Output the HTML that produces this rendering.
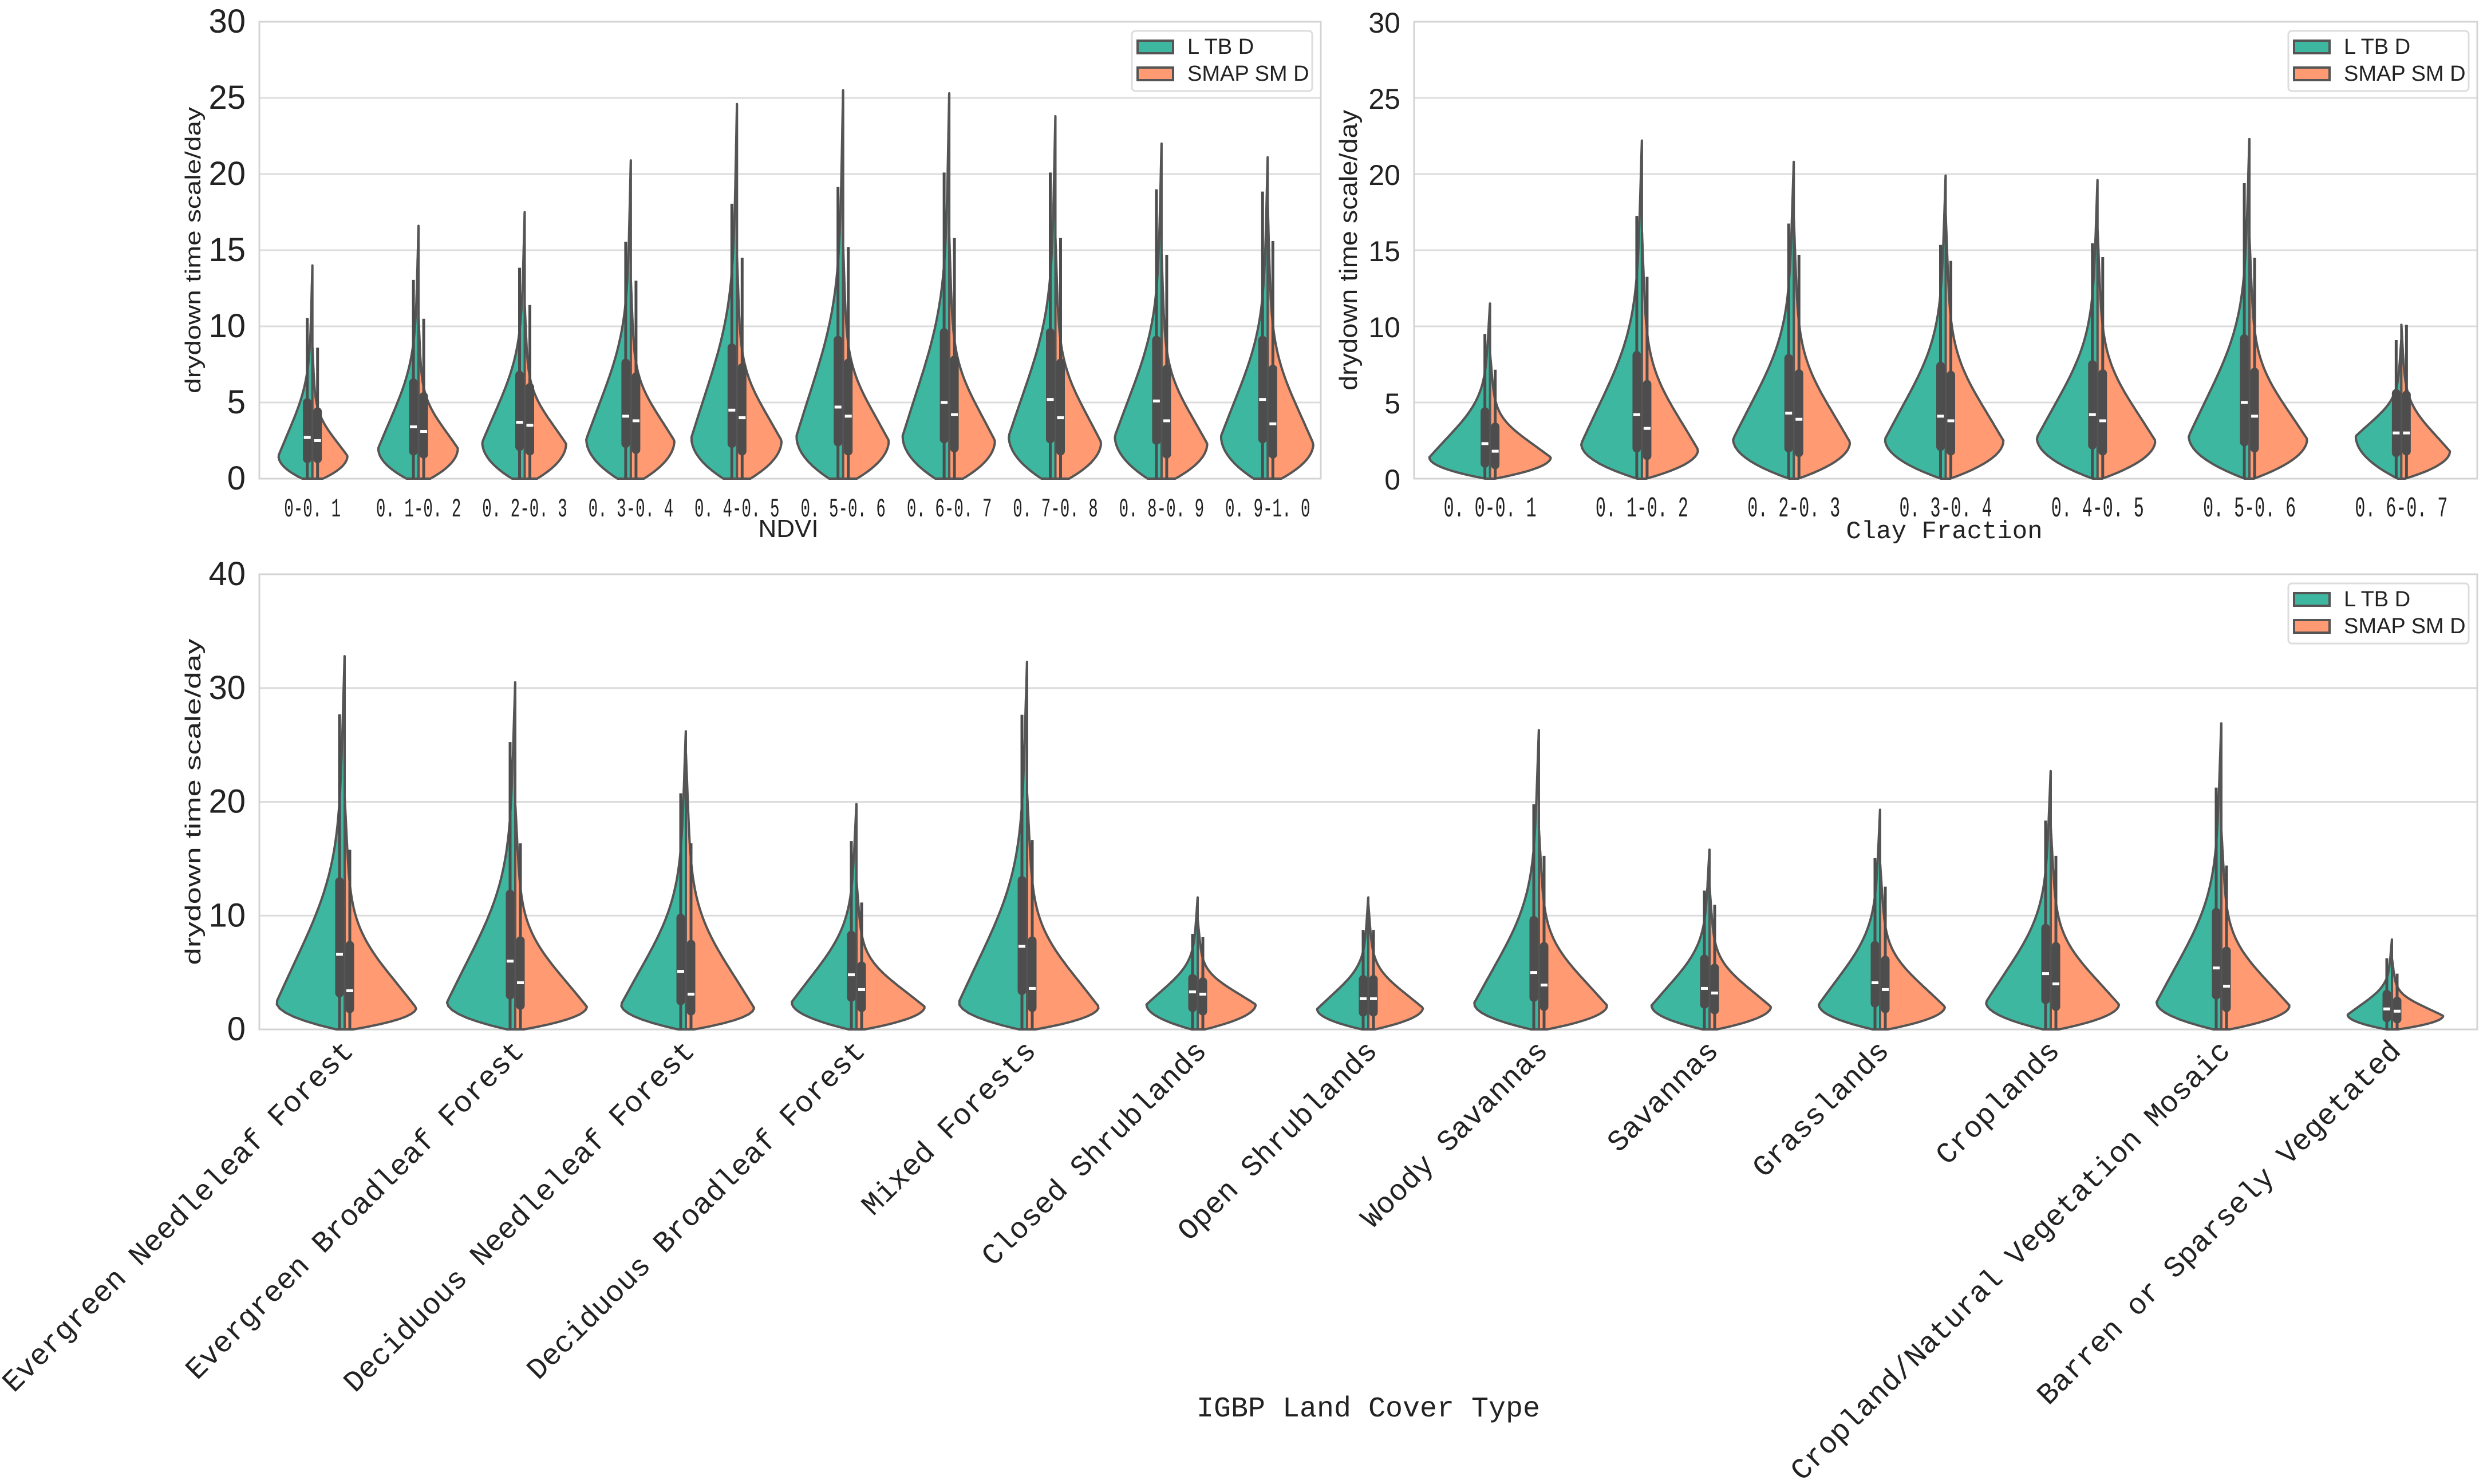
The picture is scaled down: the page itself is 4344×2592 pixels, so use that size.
<!DOCTYPE html>
<html><head><meta charset="utf-8">
<style>
html,body{margin:0;padding:0;background:#fff;}
svg{display:block;}
</style></head>
<body>
<svg id="chart" xmlns="http://www.w3.org/2000/svg" width="4344" height="2592" viewBox="0 0 4344 2592"></svg>
<script>
// ---------- NDVI panel data ----------
const ndviCats = ["0-0. 1","0. 1-0. 2","0. 2-0. 3","0. 3-0. 4","0. 4-0. 5","0. 5-0. 6","0. 6-0. 7","0. 7-0. 8","0. 8-0. 9","0. 9-1. 0"];
const ndviLMed = [2.7,3.4,3.7,4.1,4.5,4.7,5.0,5.2,5.1,5.2];
const ndviLQ1  = [1.3,1.8,2.1,2.3,2.3,2.4,2.6,2.6,2.5,2.6];
const ndviLQ3  = [5.0,6.3,6.8,7.6,8.6,9.1,9.6,9.6,9.1,9.1];
const ndviLMax = [14.0,16.6,17.5,20.9,24.6,25.5,25.3,23.8,22.0,21.1];
const ndviLPeak= [1.5,2.0,2.4,2.6,2.7,2.8,2.8,2.8,2.8,2.8];
const ndviLWid = [0.32,0.38,0.40,0.42,0.43,0.44,0.44,0.44,0.44,0.44];
const ndviSMed = [2.5,3.1,3.5,3.8,4.0,4.1,4.2,4.0,3.8,3.6];
const ndviSQ1  = [1.3,1.6,1.8,1.9,1.8,1.8,2.0,1.8,1.6,1.6];
const ndviSQ3  = [4.4,5.4,6.0,6.7,7.3,7.6,7.8,7.6,7.2,7.2];
const ndviSMax = [8.6,10.5,11.4,13.0,14.5,15.2,15.8,15.8,14.7,18.0];
const ndviSPeak= [1.5,2.0,2.3,2.5,2.5,2.5,2.5,2.4,2.3,2.3];
const ndviSWid = [0.33,0.37,0.39,0.41,0.42,0.43,0.43,0.43,0.43,0.43];
// ---------- Clay panel data ----------
const clayCats = ["0. 0-0. 1","0. 1-0. 2","0. 2-0. 3","0. 3-0. 4","0. 4-0. 5","0. 5-0. 6","0. 6-0. 7"];
const clayLMed = [2.3,4.2,4.3,4.1,4.2,5.0,3.0];
const clayLQ1  = [1.0,2.0,2.0,2.1,2.2,2.4,1.7];
const clayLQ3  = [4.4,8.1,7.9,7.4,7.5,9.2,5.6];
const clayLMax = [11.5,22.2,20.8,19.9,19.6,22.3,9.1];
const clayLPeak= [1.4,2.3,2.6,2.6,2.7,2.8,2.8];
const clayLWid = [0.40,0.40,0.40,0.40,0.40,0.40,0.30];
const claySMed = [1.8,3.3,3.9,3.8,3.8,4.1,3.0];
const claySQ1  = [0.9,1.5,1.7,1.8,1.8,2.0,1.8];
const claySQ3  = [3.4,6.2,6.9,6.8,6.9,7.0,5.5];
const claySMax = [8.2,16.2,17.0,17.3,16.3,15.8,10.1];
const claySPeak= [1.4,1.9,2.4,2.5,2.5,2.6,1.8];
const claySWid = [0.40,0.37,0.37,0.38,0.38,0.38,0.32];
// ---------- IGBP panel data ----------
const igbpCats = ["Evergreen Needleleaf Forest","Evergreen Broadleaf Forest","Deciduous Needleleaf Forest","Deciduous Broadleaf Forest","Mixed Forests","Closed Shrublands","Open Shrublands","Woody Savannas","Savannas","Grasslands","Croplands","Cropland/Natural Vegetation Mosaic","Barren or Sparsely Vegetated"];
const igbpLMed = [6.6,6.0,5.1,4.8,7.3,3.3,2.7,5.0,3.6,4.1,4.9,5.4,1.8];
const igbpLQ1  = [3.2,3.0,2.5,2.8,3.4,1.9,1.5,2.8,2.2,2.3,2.6,3.0,1.0];
const igbpLQ3  = [13.0,11.9,9.8,8.3,13.1,4.5,4.4,9.6,6.2,7.4,8.9,10.3,3.1];
const igbpLMax = [32.8,30.5,26.2,19.8,32.3,11.6,11.6,26.3,15.8,19.3,22.7,26.9,7.9];
const igbpLPeak= [2.4,2.4,2.2,2.4,2.4,2.2,1.8,2.3,2.1,2.2,2.4,2.4,1.3];
const igbpLWid = [0.40,0.40,0.38,0.38,0.40,0.30,0.30,0.38,0.34,0.36,0.38,0.38,0.26];
const igbpSMed = [3.4,4.1,3.1,3.5,3.6,3.1,2.7,3.9,3.2,3.5,4.0,3.8,1.6];
const igbpSQ1  = [1.8,2.1,1.6,1.9,1.9,1.6,1.5,2.0,1.7,1.8,2.0,1.9,0.9];
const igbpSQ3  = [7.4,7.8,7.5,5.6,7.8,4.2,4.4,7.3,5.4,6.1,7.3,6.9,2.5];
const igbpSMax = [20.3,19.7,24.2,13.0,20.7,9.6,11.0,17.5,12.5,14.5,17.7,17.4,6.2];
const igbpSPeak= [1.9,2.0,1.9,2.0,2.0,2.2,1.9,2.1,2.0,2.0,2.2,2.1,1.2];
const igbpSWid = [0.42,0.42,0.40,0.40,0.42,0.34,0.32,0.40,0.36,0.38,0.40,0.40,0.30];
const ticks30 = [0,5,10,15,20,25,30];
const ticks40 = [0,10,20,30,40];

const NS="http://www.w3.org/2000/svg";
const svg=document.getElementById('chart');
function mk(tag,attrs,parent){const e=document.createElementNS(NS,tag);for(const k in attrs)e.setAttribute(k,attrs[k]);(parent||svg).appendChild(e);return e;}
const TEAL="#3db7a0", ORANGE="#ff9a72", EDGE="#555555", BOX="#4d4d4d";

function halfPath(cx,dir,ys,peak,top,W,base){
  const pts=[];const n=90;
  const s=Math.max(0.8,(top-peak)/4.2);
  for(let i=0;i<=n;i++){
    const v=top*i/n;let f;
    if(v<=peak){const t=(peak-v)/peak;f=base+(1-base)*(1-t*t);}
    else{const t=(v-peak);
      const g=Math.exp(-0.5*Math.pow(t/(s*0.9),2));
      const e=Math.exp(-t/(s*0.75));
      f=(0.55*g+0.45*e)*0.93+0.07*(1-Math.pow(t/(top-peak),2));}
    f=Math.max(f,0);
    pts.push([cx+dir*W*f,ys(v)]);
  }
  let d="M"+cx+","+ys(0);
  pts.forEach(p=>{d+=" L"+p[0].toFixed(1)+","+p[1].toFixed(1);});
  d+=" L"+cx+","+ys(top)+" Z";
  return d;
}

function panel(o){
  const g=mk('g',{});
  
  
  const ys=v=>o.bottom-v/o.ymax*(o.bottom-o.top);
  o.ticks.forEach(t=>{
    const l=mk('line',{x1:o.left,x2:o.right,y1:ys(t),y2:ys(t),stroke:"#dcdcdc","stroke-width":3},g);
    
    
    const tx=mk('text',{x:o.left-24,y:ys(t)+19,"text-anchor":"end","font-family":o.tickFont,"font-size":o.tickFs,fill:"#222"},g);
    tx.textContent=t;
    
    
  });
  const fr=mk('rect',{x:o.left,y:o.top,width:o.right-o.left,height:o.bottom-o.top,fill:"none",stroke:"#d4d4d4","stroke-width":3},g);
  
  
  const n=o.cats.length, sp=(o.right-o.left)/n;
  for(let i=0;i<n;i++){
    const cx=o.left+sp*(i+0.5);
    const vg=mk('g',{},g);
    
    
    const sides=[[-1,TEAL,o.LMed,o.LQ1,o.LQ3,o.LMax,o.LPeak,o.LWid],[1,ORANGE,o.SMed,o.SQ1,o.SQ3,o.SMax,o.SPeak,o.SWid]];
    sides.forEach(sd=>{
      const [dir,col,med,q1,q3,mx,pk,wd]=sd;
      const p=mk('path',{d:halfPath(cx,dir,ys,pk[i],mx[i],wd[i]*sp,o.base),fill:col,stroke:EDGE,"stroke-width":4,"stroke-linejoin":"round"},vg);
      
      
    });
    sides.forEach(sd=>{
      const [dir,col,med,q1,q3,mx]=sd;
      const bx=cx+dir*9;
      const iqr=q3[i]-q1[i];
      const wt=Math.min(mx[i],q3[i]+1.5*iqr);
      const w=mk('line',{x1:bx,x2:bx,y1:ys(0),y2:ys(wt),stroke:BOX,"stroke-width":5},vg);
      
      
      const b=mk('line',{x1:bx,x2:bx,y1:ys(q1[i]),y2:ys(q3[i]),stroke:BOX,"stroke-width":15,"stroke-linecap":"round"},vg);
      
      
      const m=mk('rect',{x:bx-6,y:ys(med[i])-2.5,width:12,height:5,fill:"#fff"},vg);
      
      
    });
    if(o.rot){
      const t=mk('text',{x:cx+18,y:o.bottom+40,"text-anchor":"end","font-family":"Liberation Mono, monospace","font-size":52,fill:"#222",transform:`rotate(-45 ${cx+18} ${o.bottom+40})`},g);
      t.textContent=o.cats[i];
      
      
    } else {
      const len=o.cats[i].length*o.cw;
      const t=mk('text',{x:cx-len/2,y:o.bottom+66,"font-family":"Liberation Mono, monospace","font-size":o.cfs,fill:"#222",textLength:len,lengthAdjust:"spacingAndGlyphs"},g);
      t.textContent=o.cats[i];
      
      
    }
  }
  const yl=mk('text',{x:0,y:0,"text-anchor":"middle","font-family":o.yfont,"font-size":o.yfs,fill:"#222",textLength:o.ylen,lengthAdjust:"spacingAndGlyphs",transform:`translate(${o.ytx},${(o.top+o.bottom)/2}) rotate(-90)`},g);
  yl.textContent="drydown time scale/day";
  
  
  const xl=mk('text',{x:o.xtx,y:o.xty,"text-anchor":"middle","font-family":o.xfont,"font-size":o.xfs,fill:"#222"},g);
  xl.textContent=o.xtitle;
  
  
  const lg=mk('g',{},g);
  
  
  const lx=o.right-330, ly=o.top+16;
  mk('rect',{x:lx,y:ly,width:315,height:105,rx:6,fill:"#fff",stroke:"#dddddd","stroke-width":3},lg);
  [[TEAL,"L TB D",0],[ORANGE,"SMAP SM D",47]].forEach(e=>{
    const r=mk('rect',{x:lx+10,y:ly+17+e[2],width:62,height:22,fill:e[0],stroke:EDGE,"stroke-width":4},lg);
    
    
    const t=mk('text',{x:lx+97,y:ly+40+e[2],"font-family":"Liberation Sans Narrow, Liberation Sans, sans-serif","font-size":38,fill:"#222"},lg);
    t.textContent=e[1];
    
    
  });
}

panel({name:'ndvi-panel',left:453,right:2307,top:38,bottom:836,ymax:30,ticks:ticks30,base:0.3,cats:ndviCats,cw:16.5,cfs:46,
  tickFont:"Liberation Sans Narrow, Liberation Sans, sans-serif",tickFs:58,
  LMed:ndviLMed,LQ1:ndviLQ1,LQ3:ndviLQ3,LMax:ndviLMax,LPeak:ndviLPeak,LWid:ndviLWid,
  SMed:ndviSMed,SQ1:ndviSQ1,SQ3:ndviSQ3,SMax:ndviSMax,SPeak:ndviSPeak,SWid:ndviSWid,
  ytx:350,ylen:500,yfont:"Liberation Sans, sans-serif",yfs:38,xtitle:"NDVI",xtx:1377,xty:938,xfont:"Liberation Sans Narrow, Liberation Sans, sans-serif",xfs:44});
panel({name:'clay-panel',left:2470,right:4327,top:38,bottom:836,ymax:30,ticks:ticks30,base:0.08,cats:clayCats,cw:18,cfs:50,
  tickFont:"Liberation Sans, sans-serif",tickFs:50,
  LMed:clayLMed,LQ1:clayLQ1,LQ3:clayLQ3,LMax:clayLMax,LPeak:clayLPeak,LWid:clayLWid,
  SMed:claySMed,SQ1:claySQ1,SQ3:claySQ3,SMax:claySMax,SPeak:claySPeak,SWid:claySWid,
  ytx:2370,ylen:490,yfont:"Liberation Sans Narrow, Liberation Sans, sans-serif",yfs:44,xtitle:"Clay Fraction",xtx:3396,xty:940,xfont:"Liberation Mono, monospace",xfs:44});
panel({name:'igbp-panel',left:453,right:4327,top:1003,bottom:1798,ymax:40,ticks:ticks40,base:0.12,cats:igbpCats,rot:true,
  tickFont:"Liberation Sans Narrow, Liberation Sans, sans-serif",tickFs:58,
  LMed:igbpLMed,LQ1:igbpLQ1,LQ3:igbpLQ3,LMax:igbpLMax,LPeak:igbpLPeak,LWid:igbpLWid,
  SMed:igbpSMed,SQ1:igbpSQ1,SQ3:igbpSQ3,SMax:igbpSMax,SPeak:igbpSPeak,SWid:igbpSWid,
  ytx:350,ylen:570,yfont:"Liberation Sans, sans-serif",yfs:38,xtitle:"IGBP Land Cover Type",xtx:2390,xty:2474,xfont:"Liberation Mono, monospace",xfs:50});
</script>
</body></html>
